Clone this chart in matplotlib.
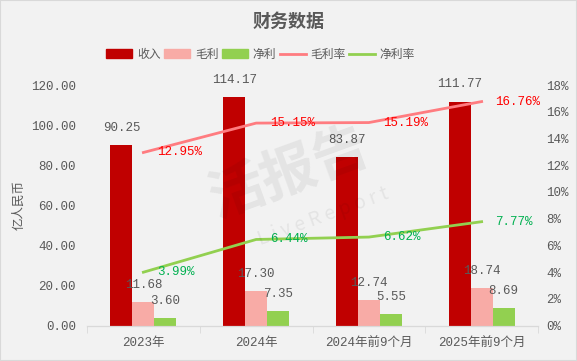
import matplotlib
matplotlib.use("Agg")
import matplotlib.pyplot as plt
import numpy as np
from matplotlib.lines import Line2D
from matplotlib.patches import Patch, Rectangle

plt.rcParams['font.family'] = ['Liberation Mono', 'Noto Sans CJK SC', 'DejaVu Sans']

# data
categories = ['2023年', '2024年', '2024年前9个月', '2025年前9个月']
revenue = [90.25, 114.17, 83.87, 111.77]
gross_profit = [11.68, 17.30, 12.74, 18.74]
net_profit = [3.60, 7.35, 5.55, 8.69]
gross_margin = [12.95, 15.15, 15.19, 16.76]
net_margin = [3.99, 6.44, 6.62, 7.77]

bg = '#f2f2f2'
c_rev = '#c00000'
c_gp = '#f8aba6'
c_np = '#92d050'
c_gm = '#ff7c80'
c_nm = '#92d050'
txt = '#595959'
cjk = ['Noto Sans CJK SC', 'DejaVu Sans']

fig = plt.figure(figsize=(5.77, 3.61), dpi=100, facecolor=bg)
fig.patches.append(Rectangle((0, 0), 1, 1, transform=fig.transFigure,
                             fill=False, edgecolor='#d9d9d9', lw=1.5))
ax = fig.add_axes([0.1508, 0.0983, 0.7816, 0.6662])
ax.set_facecolor(bg)
ax2 = ax.twinx()

# watermark
fig.text(0.5, 0.52, '活报告', fontsize=40, color='#000000', alpha=0.06,
         rotation=20, ha='center', va='center', fontweight='bold', family=cjk)
fig.text(0.56, 0.4, 'L i v e R e p o r t', fontsize=14, color='#000000', alpha=0.06,
         rotation=20, ha='center', va='center', family=cjk)

x = np.arange(len(categories))
w = 0.195
bars = [(revenue, c_rev, -w), (gross_profit, c_gp, 0), (net_profit, c_np, w)]
for vals, col, off in bars:
    ax.bar(x + off, vals, width=w, color=col, zorder=2)
    for xi, v in zip(x, vals):
        ax.annotate(f'{v:.2f}', (xi + off, v), xytext=(0, 8), textcoords='offset points',
                    ha='center', va='bottom', fontsize=9, color=txt)

ax.set_ylim(0, 120)
ax.set_yticks(np.arange(0, 121, 20))
ax.set_yticklabels([f'{v:.2f}' for v in np.arange(0, 121, 20)])
ax.set_xlim(-0.5, 3.5)
ax.set_xticks(x)
ax.set_xticklabels(categories)
ax.set_xticks(np.arange(-0.5, 3.6, 1), minor=True)
ax.tick_params(axis='x', which='major', length=0, pad=8, labelsize=9, labelcolor=txt)
ax.tick_params(axis='x', which='minor', length=5, color='#d9d9d9')
ax.tick_params(axis='y', length=0, labelsize=9, labelcolor=txt, pad=8)
ax.set_ylabel('亿人民币', fontsize=9, color=txt, labelpad=4, family=cjk)

ax2.plot(x, gross_margin, color=c_gm, lw=2, zorder=3)
ax2.plot(x, net_margin, color=c_nm, lw=2, zorder=3)
for xi, v in zip(x, gross_margin):
    ax2.annotate(f'{v:.2f}%', (xi, v), xytext=(10, 0), textcoords='offset points',
                 ha='left', va='center', fontsize=9, color='#ff0000')
for xi, v in zip(x, net_margin):
    ax2.annotate(f'{v:.2f}%', (xi, v), xytext=(10, 0), textcoords='offset points',
                 ha='left', va='center', fontsize=9, color='#00b050')
ax2.set_ylim(0, 18)
ax2.set_yticks(np.arange(0, 19, 2))
ax2.set_yticklabels([f'{v}%' for v in range(0, 19, 2)])
ax2.tick_params(axis='y', length=0, labelsize=9, labelcolor=txt, pad=6)

for a in (ax, ax2):
    for s in ('top', 'left', 'right'):
        a.spines[s].set_visible(False)
    a.spines['bottom'].set_color('#d9d9d9')

fig.text(0.5, 0.94, '财务数据', fontsize=13, fontweight='bold', color=txt,
         ha='center', va='center', family=cjk)

handles = [Patch(color=c_rev), Patch(color=c_gp), Patch(color=c_np),
           Line2D([], [], color=c_gm, lw=2), Line2D([], [], color=c_nm, lw=2)]
labels = ['收入', '毛利', '净利', '毛利率', '净利率']
leg = fig.legend(handles, labels, loc='center', bbox_to_anchor=(0.452, 0.85), ncol=5,
                 frameon=False, prop={'family': cjk, 'size': 8.5}, labelcolor=txt,
                 handlelength=2.2, handleheight=0.7, handletextpad=0.4, columnspacing=0.3)

fig.savefig('out.png', dpi=100, facecolor=bg)
